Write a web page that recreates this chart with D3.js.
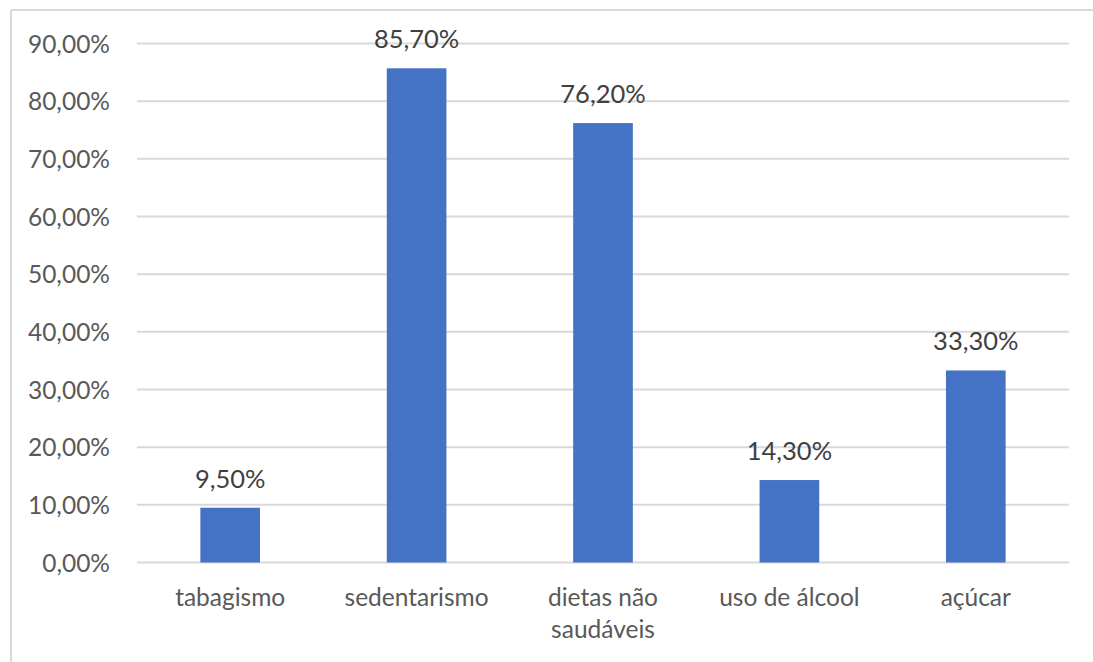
<!DOCTYPE html>
<html>
<head>
<meta charset="utf-8">
<script src="https://cdn.jsdelivr.net/npm/d3@7"></script>
<style>
  html, body { margin: 0; padding: 0; background: #fff; }
  svg { display: block; }
</style>
</head>
<body>
<svg id="chart" width="1093" height="662"></svg>
<script>
// Risk factors and their share of respondents (%)
const categories = ["tabagismo", "sedentarismo", "dietas não saudáveis", "uso de álcool", "açúcar"];
const values = [9.5, 85.7, 76.2, 14.3, 33.3];
const tickValues = [0, 10, 20, 30, 40, 50, 60, 70, 80, 90];
// Wrapped category labels
const categoryLines = [["tabagismo"], ["sedentarismo"], ["dietas não", "saudáveis"], ["uso de álcool"], ["açúcar"]];

const fmt = v => v.toFixed(2).replace(".", ",") + "%";

const svg = d3.select("#chart");
const W = 1093, H = 662;
const plot = { left: 137, right: 1069, top: 43.5, bottom: 562.5 };
const font = "Lato, 'Open Sans', sans-serif";

// Outer frame (top and left edges visible)
svg.append("line").attr("x1", 11).attr("x2", W).attr("y1", 10).attr("y2", 10)
  .attr("stroke", "#d9d9d9").attr("stroke-width", 2);
svg.append("line").attr("x1", 11).attr("x2", 11).attr("y1", 10).attr("y2", H)
  .attr("stroke", "#d9d9d9").attr("stroke-width", 2);

const x = d3.scaleBand().domain(categories).range([plot.left, plot.right]).paddingInner(0.68).paddingOuter(0.34);
const y = d3.scaleLinear().domain([0, 90]).range([plot.bottom, plot.top]);

// Horizontal gridlines
svg.append("g").selectAll("line").data(tickValues).join("line")
  .attr("x1", plot.left).attr("x2", plot.right)
  .attr("y1", d => y(d)).attr("y2", d => y(d))
  .attr("stroke", "#d9d9d9").attr("stroke-width", 2);

// Y axis labels
const yAxis = d3.axisLeft(y).tickValues(tickValues).tickFormat(fmt).tickSize(0).tickPadding(0);
const yg = svg.append("g").attr("transform", `translate(110,0)`).call(yAxis);
yg.select(".domain").remove();
yg.selectAll("text").attr("font-family", font).attr("font-size", 24.5).attr("fill", "#595959")
  .attr("dy", "0.35em");

// Bars
svg.append("g").selectAll("rect").data(values).join("rect")
  .attr("x", (d, i) => x(categories[i]))
  .attr("width", x.bandwidth())
  .attr("y", d => y(d))
  .attr("height", d => y(0) - y(d))
  .attr("fill", "#4472C4");

// Value labels
svg.append("g").selectAll("text").data(values).join("text")
  .attr("x", (d, i) => x(categories[i]) + x.bandwidth() / 2)
  .attr("y", d => y(d) - 20)
  .attr("text-anchor", "middle")
  .attr("font-family", font).attr("font-size", 25.5).attr("fill", "#404040")
  .text(d => fmt(d));

// Category labels
const xg = svg.append("g");
categoryLines.forEach((lines, i) => {
  const t = xg.append("text")
    .attr("x", x(categories[i]) + x.bandwidth() / 2)
    .attr("y", 606)
    .attr("text-anchor", "middle")
    .attr("font-family", font).attr("font-size", 24.5).attr("fill", "#595959");
  lines.forEach((ln, j) => {
    t.append("tspan").attr("x", x(categories[i]) + x.bandwidth() / 2)
      .attr("dy", j === 0 ? 0 : 32).text(ln);
  });
});
</script>
</body>
</html>
